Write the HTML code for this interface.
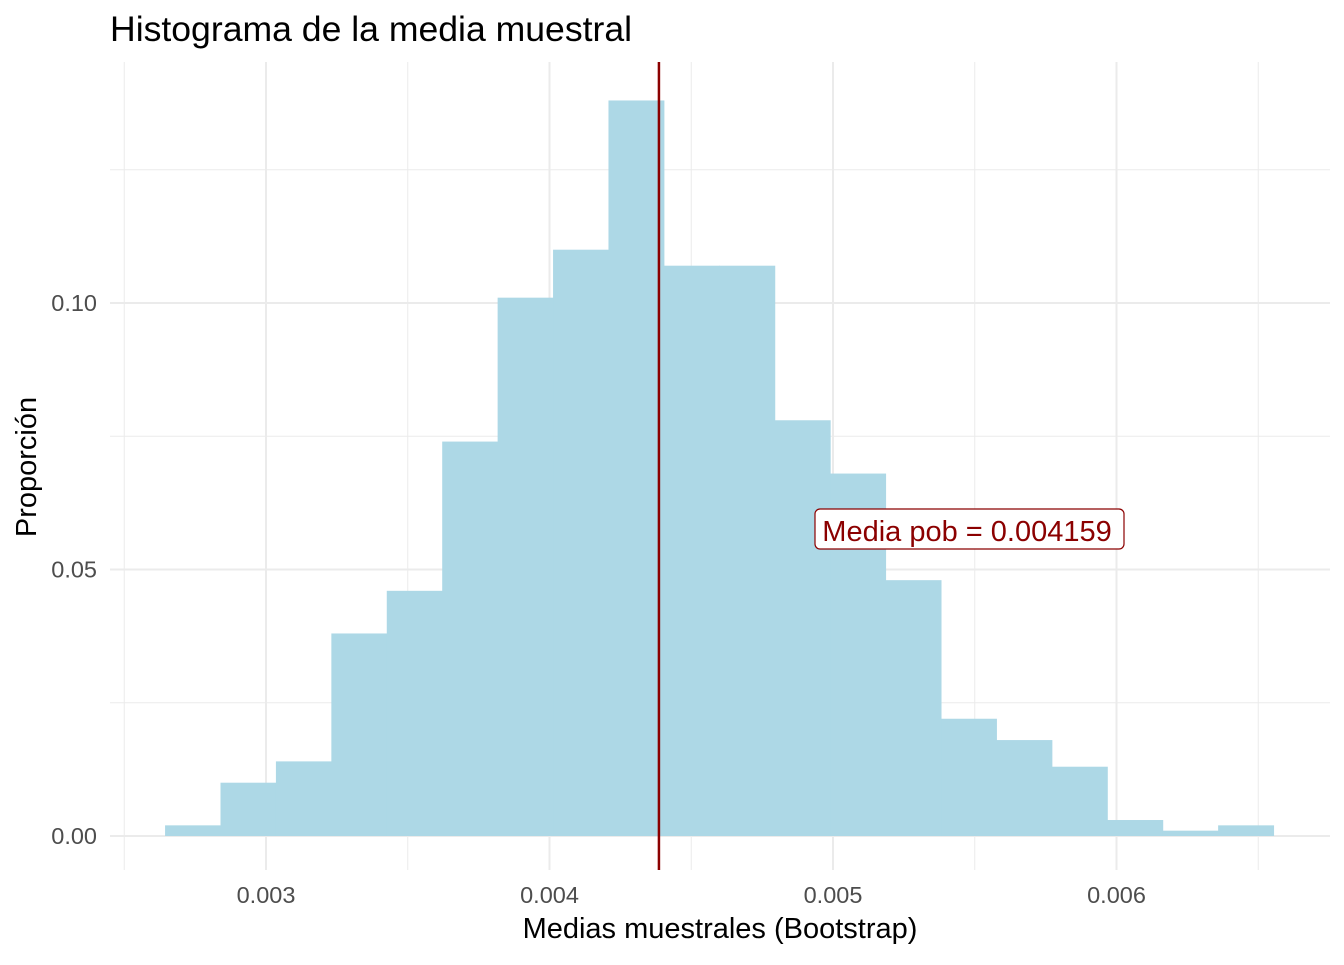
<!DOCTYPE html>
<html><head><meta charset="utf-8"><style>
body{margin:0;background:#fff;font-family:"Liberation Sans",sans-serif}
</style></head><body>
<svg id="chart" width="1344" height="960" xmlns="http://www.w3.org/2000/svg" font-family="Liberation Sans, sans-serif">
<text x="110" y="41" font-size="35.6" fill="#000">Histograma de la media muestral</text>
<g id="grid"></g><g id="bars"></g><g id="axes"></g>
<text x="720" y="938" font-size="29" text-anchor="middle" fill="#000">Medias muestrales (Bootstrap)</text>
<text transform="translate(36,467) rotate(-90)" font-size="29" text-anchor="middle" fill="#000">Proporción</text>
</svg>
<script>
const binStart = 0.002644;
const binWidth = 0.0001955;
const proportions = [0.002,0.010,0.014,0.038,0.046,0.074,0.101,0.110,0.138,0.107,0.107,0.078,0.068,0.048,0.022,0.018,0.013,0.003,0.001,0.002];
const xTicks = [0.003,0.004,0.005,0.006];
const xTickLabels = ["0.003","0.004","0.005","0.006"];
const yTicks = [0,0.05,0.10];
const yTickLabels = ["0.00","0.05","0.10"];
const meanValue = 0.004386;
const annotationText = "Media pob = 0.004159";

const NS="http://www.w3.org/2000/svg";
const X=v=>266+(v-0.003)*283500;
const Y=v=>836-v*5330;
function mk(tag,attrs,parent){const e=document.createElementNS(NS,tag);for(const k in attrs)e.setAttribute(k,attrs[k]);document.getElementById(parent).appendChild(e);return e;}
const PT=62,PB=870,PL=110,PR=1330;
[0.0025,0.0035,0.0045,0.0055,0.0065].forEach(v=>{const l=mk('line',{x1:X(v),x2:X(v),y1:PT,y2:PB,stroke:'#ebebeb','stroke-width':1},'grid');

});
[0.025,0.075,0.125].forEach(v=>{const l=mk('line',{x1:PL,x2:PR,y1:Y(v),y2:Y(v),stroke:'#ebebeb','stroke-width':1},'grid');

});
xTicks.forEach((v,i)=>{const l=mk('line',{x1:X(v),x2:X(v),y1:PT,y2:PB,stroke:'#ebebeb','stroke-width':2},'grid');


const t=mk('text',{x:X(v),y:903,'font-size':23.5,'text-anchor':'middle',fill:'#4d4d4d'},'axes');t.textContent=xTickLabels[i];

});
yTicks.forEach((v,i)=>{const l=mk('line',{x1:PL,x2:PR,y1:Y(v),y2:Y(v),stroke:'#ebebeb','stroke-width':2},'grid');


const t=mk('text',{x:97,y:Y(v)+8,'font-size':23.5,'text-anchor':'end',fill:'#4d4d4d'},'axes');t.textContent=yTickLabels[i];

});
proportions.forEach((p,i)=>{const x0=X(binStart+i*binWidth),x1=X(binStart+(i+1)*binWidth);
const r=mk('rect',{x:x0,y:Y(p),width:x1-x0+0.5,height:Y(0)-Y(p),fill:'#add8e6'},'bars');

});
const ml=mk('line',{x1:X(meanValue),x2:X(meanValue),y1:PT,y2:PB,stroke:'#8b0000','stroke-width':2.5},'axes');


const bx=mk('rect',{x:815,y:509,width:309,height:40,rx:5,fill:'#fff',stroke:'#8b0000','stroke-width':1.2},'axes');


const at=mk('text',{x:967,y:541,'font-size':29,'text-anchor':'middle',fill:'#8b0000'},'axes');at.textContent=annotationText;


</script>
</body></html>
